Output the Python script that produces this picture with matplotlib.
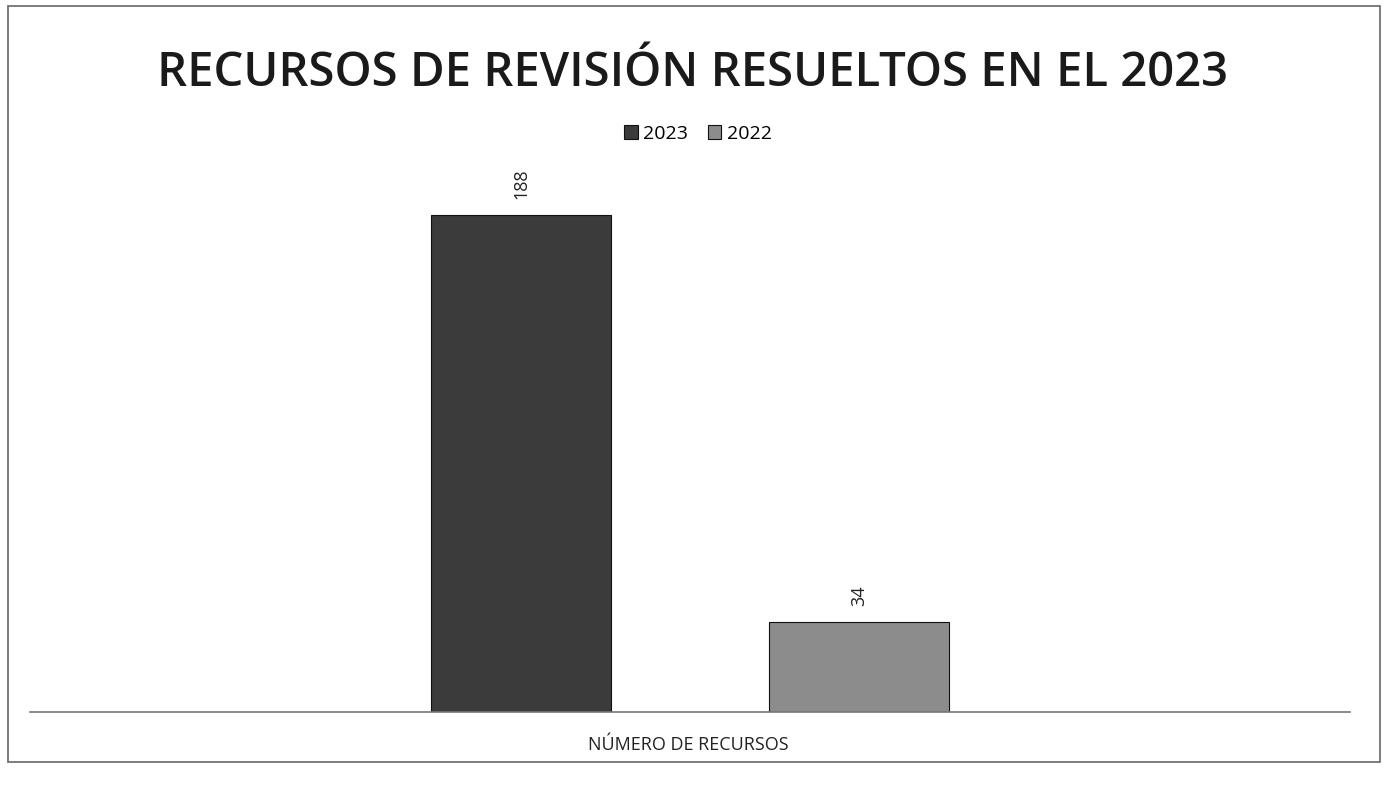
import matplotlib
matplotlib.use("Agg")
import matplotlib.pyplot as plt
from matplotlib.patches import Rectangle

title = "RECURSOS DE REVISIÓN RESUELTOS EN EL 2023"
category = "NÚMERO DE RECURSOS"
series_names = ["2023", "2022"]
series_values = [188, 34]
series_colors = ["#3b3b3b", "#8c8c8c"]

fig = plt.figure(figsize=(13.85, 7.85), dpi=100)
ax = fig.add_axes([30/1385, 1 - 712/785, 1320/1385, (712-170)/785])

width = 0.136
offsets = [-0.128, 0.128]
bars = []
for name, val, col, off in zip(series_names, series_values, series_colors, offsets):
    b = ax.bar(off, val, width=width, color=col, edgecolor="#111111", linewidth=0.8, label=name)
    bars.append(b)
    ax.text(off, val + 6, str(val), rotation=90, ha="center", va="bottom",
            fontsize=13, family="Open Sans", color="#222222")

ax.set_xlim(-0.5, 0.5)
ax.set_ylim(0, 205)
ax.set_yticks([])
ax.set_xticks([])
for s in ["top", "left", "right"]:
    ax.spines[s].set_visible(False)
ax.spines["bottom"].set_color("#777777")
ax.spines["bottom"].set_linewidth(1.2)

fig.text(688/1385, 1 - 745/785, category, ha="center", va="center",
         fontsize=13, family="Open Sans", color="#222222")

fig.text(0.5, 1 - 74/785, title, ha="center", va="center", fontsize=34,
         family="Open Sans", fontweight="semibold", color="#1a1a1a")

leg = fig.legend(handles=[b[0] for b in bars], labels=series_names, loc="center",
                 bbox_to_anchor=(698/1385, 1 - 134/785), ncol=2, frameon=False,
                 prop={"family": "Open Sans", "size": 14}, handlelength=0.7,
                 handleheight=0.7, handletextpad=0.3, columnspacing=1.0)

fig.patches.append(Rectangle((8/1385, 1 - 762/785), 1372/1385, 756/785,
                             transform=fig.transFigure, fill=False,
                             edgecolor="#666666", linewidth=1.2))

fig.savefig("out.png", dpi=100)
